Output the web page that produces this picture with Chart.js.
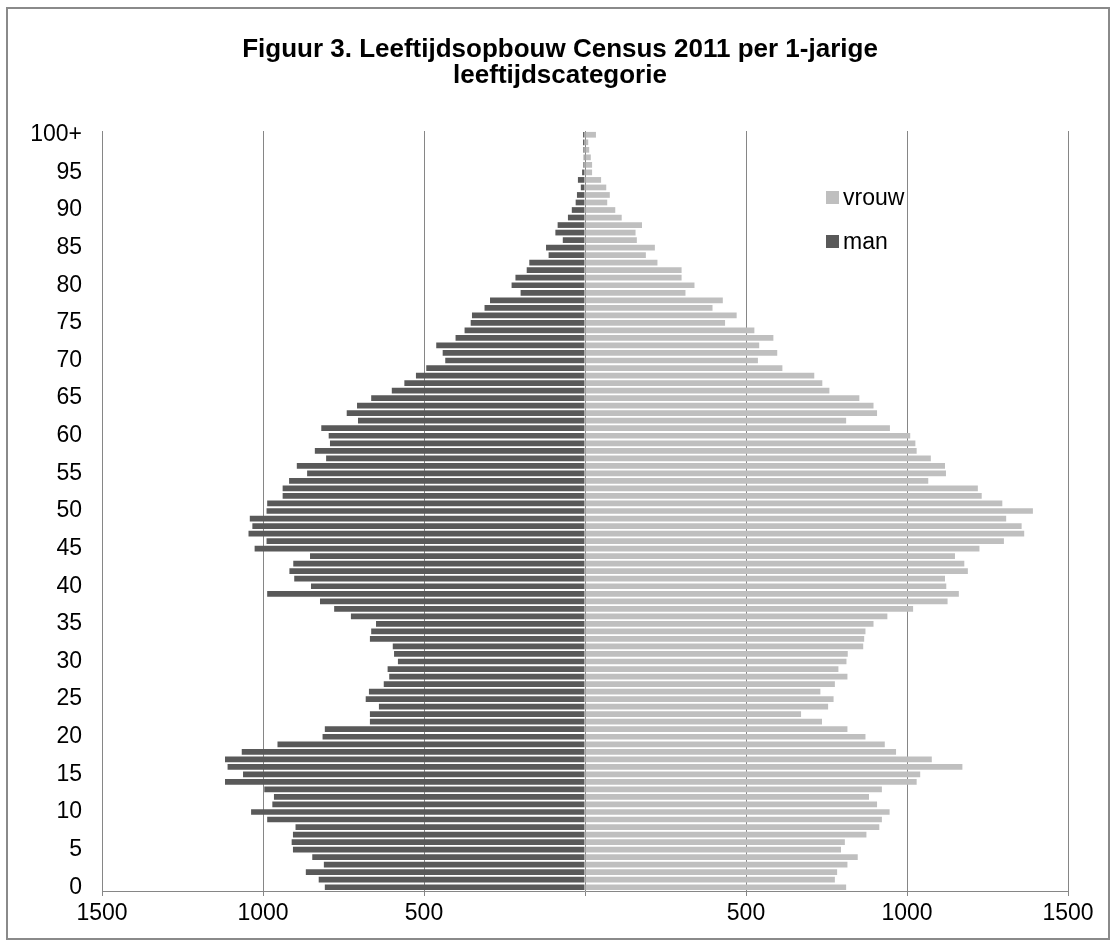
<!DOCTYPE html>
<html>
<head>
<meta charset="utf-8">
<title>Leeftijdsopbouw Census 2011</title>
<script src="https://cdn.jsdelivr.net/npm/chart.js@4.4.0/dist/chart.umd.min.js"></script>
<style>
  body { margin: 0; background: #fff; }
  #wrap { position: relative; width: 1115px; height: 945px; }
  #frame { position: absolute; left: 6px; top: 7px; width: 1100px; height: 929px; border: 2px solid #8a8a8a; pointer-events: none; }
  .leg { position: absolute; left: 826px; height: 24px; line-height: 24px; font: 23px "Liberation Sans", Arial, sans-serif; color: #000; display: flex; align-items: center; }
  .leg span { display: inline-block; width: 13px; height: 13px; margin-right: 4px; }
</style>
</head>
<body>
<div id="wrap">
  <canvas id="pyramide" width="1115" height="945"></canvas>
  <div id="frame"></div>
  <div class="leg" style="top:185px"><span style="background:#BFBFBF"></span>vrouw</div>
  <div class="leg" style="top:229px"><span style="background:#595959"></span>man</div>
</div>
<script>
// leeftijd 0 t/m 99 en 100+
const leeftijden = [];
for (let i = 0; i < 100; i++) leeftijden.push(String(i));
leeftijden.push("100+");

const asLabels = ["0", "5", "10", "15", "20", "25", "30", "35", "40", "45", "50",
    "55", "60", "65", "70", "75", "80", "85", "90", "95", "100+"];

// aantallen per leeftijd, van 0 naar 100+
const man = [
    808, 827, 867, 811, 847, 907, 911, 907, 899, 987,
    1037, 971, 966, 996, 1118, 1062, 1110, 1118, 1066, 955,
    815, 808, 668, 668, 640, 681, 671, 625, 608, 613,
    581, 593, 597, 668, 664, 649, 727, 779, 823, 987,
    851, 903, 918, 906, 854, 1026, 989, 1045, 1033, 1041,
    989, 987, 939, 939, 919, 863, 895, 804, 839, 792,
    796, 819, 705, 740, 708, 664, 600, 561, 525, 493,
    434, 442, 462, 402, 374, 355, 351, 312, 295, 200,
    228, 216, 181, 173, 113, 121, 69, 92, 85, 53,
    41, 29, 25, 13, 22, 9, 5, 4, 5, 6,
    6
];
const vrouw = [
    811, 776, 783, 815, 847, 795, 807, 874, 914, 922,
    946, 907, 882, 922, 1030, 1041, 1172, 1077, 966, 931,
    871, 815, 736, 671, 755, 772, 731, 776, 815, 787,
    812, 816, 864, 867, 871, 896, 939, 1019, 1126, 1161,
    1122, 1118, 1189, 1178, 1149, 1225, 1301, 1364, 1356, 1308,
    1391, 1296, 1232, 1220, 1066, 1121, 1118, 1074, 1030, 1026,
    1010, 947, 811, 907, 896, 852, 759, 737, 712, 613,
    537, 597, 541, 585, 526, 435, 471, 396, 428, 312,
    340, 300, 300, 225, 189, 217, 161, 157, 177, 114,
    94, 69, 77, 66, 50, 22, 22, 18, 13, 10,
    34
];

const lettertype = '"Liberation Sans", Arial, sans-serif';

const ctx = document.getElementById("pyramide").getContext("2d");
const myChart = new Chart(ctx, {
    type: "bar",
    data: {
        labels: leeftijden,
        datasets: [
            {
                label: "vrouw",
                data: vrouw,
                backgroundColor: "#BFBFBF",
                barPercentage: 0.76,
                categoryPercentage: 1,
            },
            {
                label: "man",
                data: man.map(v => -v),
                backgroundColor: "#595959",
                barPercentage: 0.76,
                categoryPercentage: 1,
            },
        ],
    },
    options: {
        indexAxis: "y",
        responsive: false,
        animation: false,
        layout: {
            padding: { left: 5, right: 0, top: 0, bottom: 19 },
        },
        plugins: {
            legend: { display: false },
            title: {
                display: true,
                text: ["Figuur 3. Leeftijdsopbouw Census 2011 per 1-jarige", "leeftijdscategorie"],
                color: "#000",
                font: { family: lettertype, size: 26, weight: "bold", lineHeight: 1.0 },
                padding: { top: 37, bottom: 42 },
            },
            tooltip: {
                callbacks: {
                    label: (c) => c.dataset.label + ": " + Math.abs(c.raw),
                },
            },
        },
        scales: {
            x: {
                stacked: true,
                min: -1500,
                max: 1500,
                z: 1,
                ticks: {
                    stepSize: 500,
                    maxRotation: 0,
                    padding: 4,
                    color: "#000",
                    font: { family: lettertype, size: 23 },
                    callback: (v) => (v === 0 ? "" : Math.abs(v)),
                },
                grid: { color: "#868686", tickLength: 5 },
                border: { color: "#868686" },
                afterFit: (s) => { s.height = 35; },
            },
            y: {
                stacked: true,
                reverse: true,
                ticks: {
                    autoSkip: false,
                    padding: 20,
                    color: "#000",
                    font: { family: lettertype, size: 23 },
                    callback: (v, i) => (asLabels.includes(leeftijden[i]) ? leeftijden[i] : ""),
                },
                grid: { display: false, drawTicks: false },
                border: { color: "#868686" },
                afterFit: (s) => { s.width = 97; },
            },
            // lege as rechts, houdt ruimte vrij zodat de titel in het midden staat
            rechts: {
                type: "category",
                position: "right",
                ticks: { display: false },
                grid: { display: false, drawTicks: false },
                border: { display: false },
                afterFit: (s) => { s.width = 47; },
            },
        },
    },
});
</script>
</body>
</html>
